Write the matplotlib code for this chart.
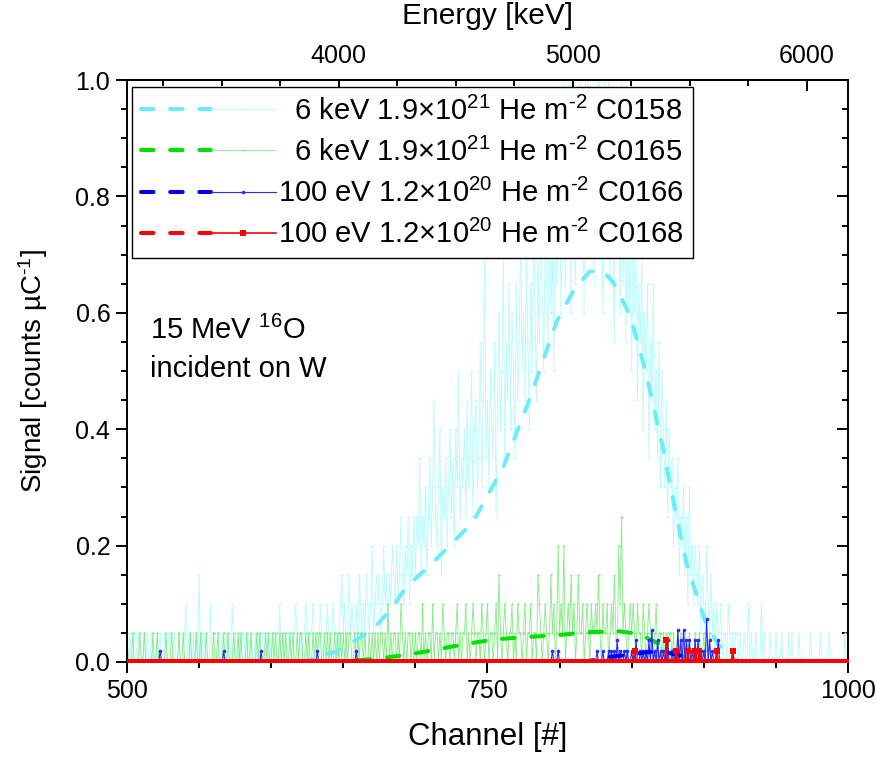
import numpy as np
import matplotlib
matplotlib.use("Agg")
import matplotlib.pyplot as plt
from matplotlib.lines import Line2D
from matplotlib.legend_handler import HandlerBase
from matplotlib.ticker import MultipleLocator

plt.rcParams['font.family'] = ['Liberation Sans', 'DejaVu Sans']
plt.rcParams['mathtext.fontset'] = 'custom'
plt.rcParams['mathtext.rm'] = 'Liberation Sans'
plt.rcParams['mathtext.it'] = 'Liberation Sans:italic'
plt.rcParams['mathtext.bf'] = 'Liberation Sans:bold'
plt.rcParams['lines.scale_dashes'] = False

# channel 500 is the first bin, one count per bin for each sample
first_channel = 500
unit_6kev = 0.05     # counts/uC for one count, 6 keV samples
unit_100ev = 0.0185  # counts/uC for one count, 100 eV samples
e_slope, e_offset = 6.161, 15.0   # energy calibration, keV per channel

# C0158, counts per channel from 500 to 1000
cyan_counts = [
    1, 0, 1, 0, 0, 1, 1, 0, 1, 0, 0, 0, 1, 0, 1, 0, 0, 1, 0, 0, 0, 1, 0, 1, 0,
    0, 1, 0, 0, 1, 1, 0, 0, 1, 0, 0, 1, 0, 0, 0, 1, 2, 0, 1, 0, 0, 1, 0, 1, 0,
    3, 0, 1, 0, 1, 0, 0, 0, 2, 0, 1, 1, 0, 0, 1, 0, 1, 0, 0, 1, 0, 1, 0, 2, 0,
    1, 0, 0, 1, 0, 1, 1, 0, 0, 1, 0, 1, 0, 0, 1, 0, 1, 0, 1, 1, 0, 0, 1, 0, 1,
    0, 1, 0, 1, 1, 0, 2, 0, 1, 0, 1, 0, 1, 1, 0, 0, 1, 2, 1, 0, 1, 0, 1, 1, 2,
    1, 0, 1, 1, 2, 0, 1, 1, 0, 2, 1, 0, 1, 1, 2, 1, 0, 1, 2, 1, 1, 0, 1, 2, 3,
    1, 2, 0, 1, 3, 1, 2, 1, 1, 2, 0, 3, 2, 1, 2, 1, 3, 2, 1, 2, 4, 1, 2, 3, 2,
    3, 1, 2, 4, 2, 3, 1, 3, 2, 4, 3, 2, 4, 2, 3, 5, 3, 2, 4, 3, 5, 2, 4, 3, 5,
    3, 5, 4, 7, 3, 5, 4, 6, 3, 5, 7, 4, 6, 9, 5, 4, 6, 8, 3, 6, 5, 7, 4, 6, 8,
    5, 7, 4, 8, 6, 10, 5, 7, 6, 8, 5, 9, 6, 7, 10, 5, 8, 9, 6, 7, 11, 6, 9, 14, 7,
    9, 6, 10, 8, 7, 11, 5, 9, 12, 8, 10, 14, 7, 11, 9, 13, 8, 12, 10, 7, 13, 9, 11, 15, 10,
    12, 9, 14, 11, 8, 13, 10, 15, 12, 9, 14, 11, 16, 12, 10, 15, 13, 11, 17, 12, 14, 10, 16, 13, 15,
    17, 12, 15, 20, 13, 16, 14, 22, 12, 18, 15, 13, 19, 16, 21, 14, 17, 12, 20, 15, 23, 14, 18, 16, 13,
    19, 15, 22, 14, 17, 12, 20, 16, 14, 21, 13, 18, 15, 11, 19, 14, 16, 12, 20, 13, 15, 11, 17, 12, 14,
    10, 15, 12, 16, 9, 13, 11, 14, 8, 12, 10, 13, 7, 11, 9, 13, 8, 10, 7, 11, 6, 10, 8, 6, 9,
    5, 8, 6, 7, 4, 6, 5, 7, 3, 5, 4, 6, 3, 5, 2, 6, 3, 4, 2, 4, 3, 2, 4, 1, 3,
    2, 1, 4, 2, 1, 3, 1, 2, 0, 2, 1, 1, 2, 0, 1, 1, 0, 2, 1, 0, 1, 0, 1, 1, 0,
    1, 0, 0, 1, 0, 0, 2, 0, 1, 0, 0, 1, 0, 0, 0, 2, 0, 1, 0, 0, 0, 1, 0, 0, 0,
    1, 0, 0, 0, 1, 0, 0, 0, 0, 1, 0, 1, 0, 0, 0, 0, 1, 0, 0, 0, 0, 0, 0, 0, 1,
    0, 0, 0, 0, 0, 0, 1, 0, 0, 0, 0, 0, 1, 0, 0, 0, 0, 0, 0, 0, 0, 0, 0, 1, 0, 0,
]

# C0165, counts per channel from 500 on
green_counts = [
    1, 0, 0, 0, 1, 0, 0, 0, 0, 1, 0, 0, 1, 0, 0, 0, 0, 0, 1, 0, 0, 1, 0, 0, 0,
    0, 0, 1, 0, 0, 0, 1, 0, 0, 0, 0, 1, 0, 0, 1, 0, 0, 0, 0, 1, 0, 0, 0, 1, 0,
    0, 1, 0, 0, 0, 1, 0, 0, 0, 0, 1, 0, 0, 1, 0, 0, 0, 1, 0, 0, 1, 0, 0, 0, 1,
    0, 0, 1, 0, 1, 0, 0, 0, 1, 0, 0, 1, 0, 0, 0, 1, 0, 1, 0, 0, 0, 1, 0, 1, 0,
    0, 1, 0, 1, 0, 0, 1, 0, 1, 0, 1, 0, 0, 1, 0, 1, 0, 0, 1, 0, 1, 1, 0, 0, 1,
    0, 1, 0, 0, 1, 0, 1, 0, 1, 1, 0, 0, 1, 0, 1, 0, 1, 0, 0, 1, 0, 1, 0, 1, 0,
    1, 0, 1, 0, 1, 1, 0, 0, 1, 0, 1, 0, 1, 1, 0, 1, 0, 0, 1, 0, 1, 0, 1, 0, 1,
    0, 1, 1, 0, 1, 0, 2, 0, 1, 0, 1, 1, 0, 1, 0, 2, 1, 0, 1, 0, 1, 1, 0, 1, 0,
    1, 0, 1, 1, 0, 2, 0, 1, 0, 1, 1, 0, 2, 0, 1, 1, 0, 1, 0, 2, 1, 0, 1, 1, 0,
    1, 1, 0, 1, 2, 0, 1, 0, 1, 1, 2, 0, 1, 0, 1, 2, 1, 0, 1, 1, 0, 2, 1, 0, 1,
    2, 0, 1, 1, 0, 1, 2, 0, 3, 1, 0, 1, 2, 1, 0, 1, 1, 2, 0, 1, 0, 2, 1, 1, 0,
    1, 2, 0, 1, 1, 2, 0, 1, 1, 0, 3, 2, 1, 0, 1, 2, 1, 0, 1, 3, 1, 2, 0, 1, 4,
    1, 2, 1, 4, 0, 1, 2, 1, 3, 1, 2, 0, 1, 3, 1, 1, 2, 0, 1, 2, 1, 0, 2, 1, 1,
    2, 1, 3, 1, 0, 2, 1, 1, 2, 0, 1, 2, 1, 3, 1, 0, 4, 2, 5, 1, 2, 1, 0, 1, 2,
    1, 2, 1, 0, 2, 1, 1, 0, 2, 1, 0, 1, 2, 1, 1, 0, 1, 2, 0, 1, 1, 0, 1, 0, 1,
    0, 1, 1, 0, 1, 0, 0, 1, 0, 1, 0, 0, 1, 0, 0, 1, 0, 0, 0, 1, 0, 0, 1, 0, 0,
    1, 0, 0, 0, 1, 0, 0, 0, 0, 0,
]

# C0166 and C0168: only the channels with counts
blue_spike_ch = [523, 567, 593, 632, 659, 795, 799, 826, 830, 834, 836, 838, 840, 842, 845,
                 847, 850, 853, 856, 858, 860, 862, 864, 866, 868, 870, 872, 875, 878, 880,
                 882, 884, 886, 888, 890, 892, 894, 896, 898, 900, 902, 904, 906, 910]
blue_spike_n = [1, 1, 1, 1, 1, 1, 1, 1, 1, 1, 1, 1, 2, 1, 1,
                1, 1, 2, 1, 1, 1, 2, 3, 1, 2, 1, 1, 2, 1, 1,
                3, 2, 3, 2, 2, 1, 2, 2, 1, 1, 4, 2, 1, 2]
red_spike_ch = [852, 874, 881, 889, 894, 897, 909, 920]
red_spike_n = [1, 2, 1, 1, 1, 1, 1, 1]

# smoothed curves (dashed)
cyan_fit_ch = [620, 630, 645, 655, 670, 683, 694, 708, 722, 740, 761, 779, 798, 810,
               821, 830, 837, 849, 860, 872, 881, 888, 895, 901, 910, 918, 925]
cyan_fit_val = [0.0, 0.006, 0.018, 0.032, 0.055, 0.09, 0.13, 0.161, 0.195, 0.241, 0.335,
                0.45, 0.585, 0.64, 0.671, 0.672, 0.653, 0.595, 0.496, 0.364, 0.25, 0.17,
                0.115, 0.07, 0.03, 0.01, 0.0]
green_fit_ch = [640, 660, 675, 693, 714, 735, 756, 777, 798, 819, 840, 850, 860, 870, 880, 890, 900]
green_fit_val = [0.0, 0.003, 0.006, 0.012, 0.021, 0.031, 0.039, 0.043, 0.046, 0.051, 0.053,
                 0.05, 0.042, 0.03, 0.015, 0.005, 0.0]
blue_fit_ch = [815, 826, 835, 847, 858, 867, 875, 885, 893, 900]
blue_fit_val = [0.0, 0.004, 0.009, 0.012, 0.016, 0.018, 0.016, 0.01, 0.004, 0.0]
red_fit_ch = [840, 860, 880, 900, 920, 935]
red_fit_val = [0.0, 0.001, 0.002, 0.002, 0.001, 0.0]

labels = ['  6 keV 1.9$\\times$10$^{21}$ He m$^{\\text{-2}}$ C0158',
          '  6 keV 1.9$\\times$10$^{21}$ He m$^{\\text{-2}}$ C0165',
          '100 eV 1.2$\\times$10$^{20}$ He m$^{\\text{-2}}$ C0166',
          '100 eV 1.2$\\times$10$^{20}$ He m$^{\\text{-2}}$ C0168']

ch_cyan = first_channel + np.arange(len(cyan_counts))
ch_green = first_channel + np.arange(len(green_counts))
ch_all = np.arange(first_channel, 1001)
blue_counts = np.zeros(len(ch_all))
blue_counts[np.array(blue_spike_ch) - first_channel] = blue_spike_n
red_counts = np.zeros(len(ch_all))
red_counts[np.array(red_spike_ch) - first_channel] = red_spike_n


def ch_to_kev(c):
    return e_slope * np.asarray(c) + e_offset


def kev_to_ch(e):
    return (np.asarray(e) - e_offset) / e_slope


class FitDataHandler(HandlerBase):
    # dashed smoothed curve on the left, thin data line with one marker on the right
    def create_artists(self, legend, orig_handle, xdescent, ydescent,
                       width, height, fontsize, trans):
        fit_line, data_line = orig_handle
        y = height / 2 - ydescent
        x0 = -xdescent
        split = x0 + 0.52 * width
        dashed = Line2D([x0, split], [y, y])
        dashed.update_from(fit_line)
        solid = Line2D([split, (split + x0 + width) / 2, x0 + width], [y, y, y])
        solid.update_from(data_line)
        solid.set_markevery([1])
        dashed.set_transform(trans)
        solid.set_transform(trans)
        return [dashed, solid]


fig = plt.figure(figsize=(8.77, 7.57), dpi=100)
ax = fig.add_axes([0.1448, 0.1255, 0.8221, 0.7688])

dash = (9, 12)
d_cyan, = ax.plot(ch_cyan, np.array(cyan_counts) * unit_6kev, color='#b8fbfb', lw=0.6,
                  marker='o', ms=1.5, mew=0, zorder=1)
d_green, = ax.plot(ch_green, np.array(green_counts) * unit_6kev, color='#84ea84', lw=0.6,
                   marker='o', ms=1.5, mew=0, zorder=2)
f_cyan, = ax.plot(cyan_fit_ch, cyan_fit_val, color='#6aecfa', lw=2.9, dashes=dash,
                  dash_capstyle='round', zorder=3)
f_green, = ax.plot(green_fit_ch, green_fit_val, color='#00e000', lw=2.9, dashes=dash,
                   dash_capstyle='round', zorder=4)
d_blue, = ax.plot(ch_all, blue_counts * unit_100ev, color='#2a2aff', lw=0.8,
                  marker='o', ms=2.6, mew=0, zorder=5)
f_blue, = ax.plot(blue_fit_ch, blue_fit_val, color='#0000f0', lw=2.9, dashes=dash,
                  dash_capstyle='round', zorder=6)
d_red, = ax.plot(ch_all, red_counts * unit_100ev, color='#ff0000', lw=1.2,
                 marker='s', ms=4.5, mew=0, zorder=7)
f_red, = ax.plot(red_fit_ch, red_fit_val, color='#ff0000', lw=2.9, dashes=dash,
                 dash_capstyle='round', zorder=8)

ax.set_xlim(500, 1000)
ax.set_ylim(0, 1.0)
ax.xaxis.set_major_locator(MultipleLocator(250))
ax.xaxis.set_minor_locator(MultipleLocator(50))
ax.yaxis.set_major_locator(MultipleLocator(0.2))
ax.yaxis.set_minor_locator(MultipleLocator(0.05))
ax.yaxis.set_major_formatter(plt.FormatStrFormatter('%.1f'))
ax.tick_params(which='both', direction='out', top=False, right=False, width=1.4,
               labelsize=18, pad=4)
ax.tick_params(which='major', length=8)
ax.tick_params(which='minor', length=4.5)
for s in ax.spines.values():
    s.set_linewidth(1.4)

top = ax.secondary_xaxis('top', functions=(ch_to_kev, kev_to_ch))
top.set_xticks([4000, 5000, 6000])
top.xaxis.set_minor_locator(MultipleLocator(250))
top.tick_params(which='both', direction='in', width=1.4, labelsize=18, pad=9)
top.tick_params(which='major', length=8)
top.tick_params(which='minor', length=4.5)
top.spines['top'].set_linewidth(1.4)
top.set_xlabel('Energy [keV]', fontsize=21.5, labelpad=14)

right = ax.secondary_yaxis('right')
right.yaxis.set_major_locator(MultipleLocator(0.2))
right.yaxis.set_minor_locator(MultipleLocator(0.05))
right.tick_params(which='both', direction='in', width=1.4, labelright=False)
right.tick_params(which='major', length=8)
right.tick_params(which='minor', length=4.5)
right.spines['right'].set_linewidth(1.4)

ax.set_xlabel('Channel [#]', fontsize=22.5, labelpad=14)
ax.set_ylabel('Signal [counts µC$^{\\text{-1}}$]', fontsize=20, labelpad=18)

ax.text(0.032, 0.595, '15 MeV $^{16}$O\nincident on W', transform=ax.transAxes,
        fontsize=21, va='top', linespacing=1.45)

leg = ax.legend([(f_cyan, d_cyan), (f_green, d_green), (f_blue, d_blue), (f_red, d_red)],
                labels, handler_map={tuple: FitDataHandler()},
                loc='upper left', bbox_to_anchor=(0.007, 0.988), borderaxespad=0,
                fontsize=21, handlelength=4.6, handletextpad=0.1, labelspacing=0.41,
                borderpad=0.32, fancybox=False, framealpha=1, edgecolor='black')
leg.get_frame().set_linewidth(1.0)
leg.set_zorder(20)

fig.savefig('out.png', dpi=100)
